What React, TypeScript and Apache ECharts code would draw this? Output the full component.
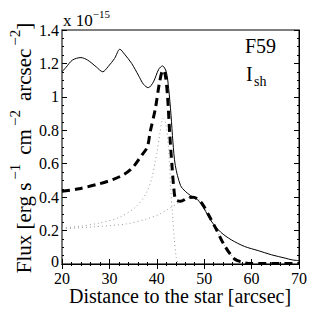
import React, { useEffect, useRef } from "react";
import * as echarts from "echarts";

const xTicks = [20, 30, 40, 50, 60, 70];
const yTicks = [0, 0.2, 0.4, 0.6, 0.8, 1, 1.2, 1.4];

const totalX = [20, 20.8, 22.2, 24.0, 25.4, 27.2, 28.6, 29.7, 31.1, 32.2, 33.2, 34.7, 36.1, 37.2, 38.2, 39.3, 40.4, 41.2, 42.0, 42.5, 43.0, 43.4, 43.9, 45.0, 46.0, 47.1, 48.6, 50.0, 51.4, 53.5, 55.7, 58.5, 61.4, 64.2, 67.1, 68.5, 70];
const totalY = [1.15, 1.175, 1.22, 1.235, 1.22, 1.18, 1.15, 1.18, 1.23, 1.285, 1.255, 1.2, 1.13, 1.075, 1.055, 1.09, 1.165, 1.185, 1.15, 1.05, 0.89, 0.73, 0.59, 0.47, 0.435, 0.41, 0.385, 0.33, 0.26, 0.19, 0.145, 0.105, 0.08, 0.055, 0.035, 0.025, 0.02];

const fitX = [20, 23.6, 27.9, 30.7, 33, 35.0, 36.8, 38.0, 38.6, 39.7, 40.6, 41.3, 41.8, 42.3, 42.7, 43.2, 43.6, 44.0, 45.0, 46.5, 47.7, 48.5, 49.6, 51.0, 52.5, 54.3, 56.4, 58.5, 60, 70];
const fitY = [0.435, 0.45, 0.48, 0.505, 0.535, 0.58, 0.65, 0.70, 0.79, 0.93, 1.09, 1.16, 1.13, 0.99, 0.79, 0.59, 0.45, 0.385, 0.375, 0.395, 0.40, 0.39, 0.36, 0.29, 0.21, 0.11, 0.03, 0.008, 0.003, 0.003];

const compAX = [20, 23.6, 27.9, 32.2, 35.7, 37.9, 39.0, 39.7, 40.0, 40.7, 41.3, 41.9, 42.5, 42.9, 43.3, 43.7, 44.1, 44.5];
const compAY = [0.215, 0.225, 0.245, 0.28, 0.345, 0.43, 0.52, 0.62, 0.66, 0.79, 0.87, 0.84, 0.68, 0.47, 0.3, 0.15, 0.04, 0];

const compBX = [20, 26.5, 33.6, 37.9, 40.7, 42.5, 44.0, 45.5, 47.0, 48.2, 49.6, 51.0, 52.5, 54.3, 56.4, 58];
const compBY = [0.21, 0.222, 0.24, 0.27, 0.30, 0.33, 0.355, 0.38, 0.40, 0.40, 0.36, 0.29, 0.21, 0.11, 0.03, 0];

const zip = (xs: number[], ys: number[]) => xs.map((x, i) => [x, ys[i]]);

const FONT = "'Liberation Serif', 'Times New Roman', serif";

export default function App() {
  const ref = useRef<HTMLDivElement>(null);
  useEffect(() => {
    if (!ref.current) return;
    const chart = echarts.init(ref.current, null, { renderer: "svg" });
    const grid = { left: 62, right: 28, top: 30, bottom: 63 };
    const tickCommon = {
      axisTick: { show: true, inside: true, length: 5, lineStyle: { color: "#000", width: 1 } },
      minorTick: { show: true, splitNumber: 5, length: 2, lineStyle: { color: "#000", width: 1 } },
      splitLine: { show: false },
    };
    const yMinor = { show: true, splitNumber: 4, length: 2, lineStyle: { color: "#000", width: 1 } };
    chart.setOption({
      animation: false,
      backgroundColor: "#fff",
      grid: { ...grid, show: true, borderColor: "#000", borderWidth: 1 },
      xAxis: [
        {
          type: "value",
          min: 20,
          max: 70,
          interval: 10,
          position: "bottom",
          axisLine: { show: true, lineStyle: { color: "#777", width: 2 } },
          ...tickCommon,
          axisLabel: {
            show: true,
            margin: 8,
            lineHeight: 12,
            fontFamily: FONT,
            fontSize: 16,
            color: "#000",
            formatter: (v: number) => (xTicks.includes(v) ? String(v) : ""),
          },
        },
        {
          type: "value",
          min: 20,
          max: 70,
          interval: 10,
          position: "top",
          axisLine: { show: true, lineStyle: { color: "#000", width: 1 } },
          ...tickCommon,
          axisLabel: { show: false },
        },
      ],
      yAxis: [
        {
          type: "value",
          min: 0,
          max: 1.4,
          interval: 0.2,
          position: "left",
          axisLine: { show: true, lineStyle: { color: "#777", width: 2 } },
          ...tickCommon,
          minorTick: yMinor,
          axisLabel: {
            show: true,
            margin: 3,
            lineHeight: 12,
            fontFamily: FONT,
            fontSize: 16,
            color: "#000",
            formatter: (v: number) => {
              const t = yTicks.find((y) => Math.abs(y - v) < 1e-6);
              if (t === undefined) return "";
              return t === 0 ? "{z|0}" : String(t);
            },
            rich: {
              z: { fontFamily: FONT, fontSize: 16, lineHeight: 12, color: "#000", padding: [0, 0, 6, 0] },
            },
          },
        },
        {
          type: "value",
          min: 0,
          max: 1.4,
          interval: 0.2,
          position: "right",
          axisLine: { show: true, lineStyle: { color: "#000", width: 1 } },
          ...tickCommon,
          minorTick: yMinor,
          axisLabel: { show: false },
        },
      ],
      series: [
        {
          type: "line",
          data: zip(compAX, compAY),
          smooth: 0.3,
          showSymbol: false,
          lineStyle: { color: "#999", width: 1, type: [1, 3] },
        },
        {
          type: "line",
          data: zip(compBX, compBY),
          smooth: 0.3,
          showSymbol: false,
          lineStyle: { color: "#999", width: 1, type: [1, 3] },
        },
        {
          type: "line",
          data: zip(fitX, fitY),
          smooth: 0.3,
          showSymbol: false,
          lineStyle: { color: "#000", width: 3, type: [8, 5] },
        },
        {
          type: "line",
          data: zip(totalX, totalY),
          smooth: 0.3,
          showSymbol: false,
          lineStyle: { color: "#000", width: 1 },
        },
      ],
      graphic: [
        {
          type: "text",
          x: 24,
          y: 148,
          rotation: Math.PI / 2,
          style: {
            text: "{n|Flux [erg s}{s|−1}{c|cm}{s|−2}{c|arcsec}{s|−2}{n|]}",
            align: "center",
            verticalAlign: "middle",
            fill: "#000",
            rich: {
              n: { fontFamily: FONT, fontSize: 21, lineHeight: 34, fill: "#000" },
              c: { fontFamily: FONT, fontSize: 21, lineHeight: 34, fill: "#000", padding: [0, 0, 0, 9] },
              s: { fontFamily: FONT, fontSize: 15, lineHeight: 14, verticalAlign: "top", fill: "#000", padding: [0, 0, 0, 3] },
            },
          },
        },
        {
          type: "text",
          x: 180,
          y: 296,
          style: {
            text: "Distance to the star [arcsec]",
            fontFamily: FONT,
            fontSize: 20,
            fill: "#000",
            align: "center",
            verticalAlign: "middle",
          },
        },
        {
          type: "text",
          x: 63,
          y: 20,
          style: {
            text: "{n|x 10}{s|−15}",
            align: "left",
            verticalAlign: "middle",
            fill: "#000",
            rich: {
              n: { fontFamily: FONT, fontSize: 17, lineHeight: 24, fill: "#000" },
              s: { fontFamily: FONT, fontSize: 11, lineHeight: 10, verticalAlign: "top", fill: "#000" },
            },
          },
        },
        {
          type: "text",
          x: 245,
          y: 46,
          style: { text: "F59", fontFamily: FONT, fontSize: 20, fill: "#000", align: "left", verticalAlign: "middle" },
        },
        {
          type: "text",
          x: 246,
          y: 74,
          style: { text: "I", fontFamily: FONT, fontSize: 20, fill: "#000", align: "left", verticalAlign: "middle" },
        },
        {
          type: "text",
          x: 254,
          y: 81,
          style: { text: "sh", fontFamily: FONT, fontSize: 14, fill: "#000", align: "left", verticalAlign: "middle" },
        },
      ],
    });
    return () => chart.dispose();
  }, []);
  return (
    <div
      ref={ref}
      style={{ position: "fixed", left: 0, top: 0, width: 327, height: 327, background: "#fff" }}
    />
  );
}
